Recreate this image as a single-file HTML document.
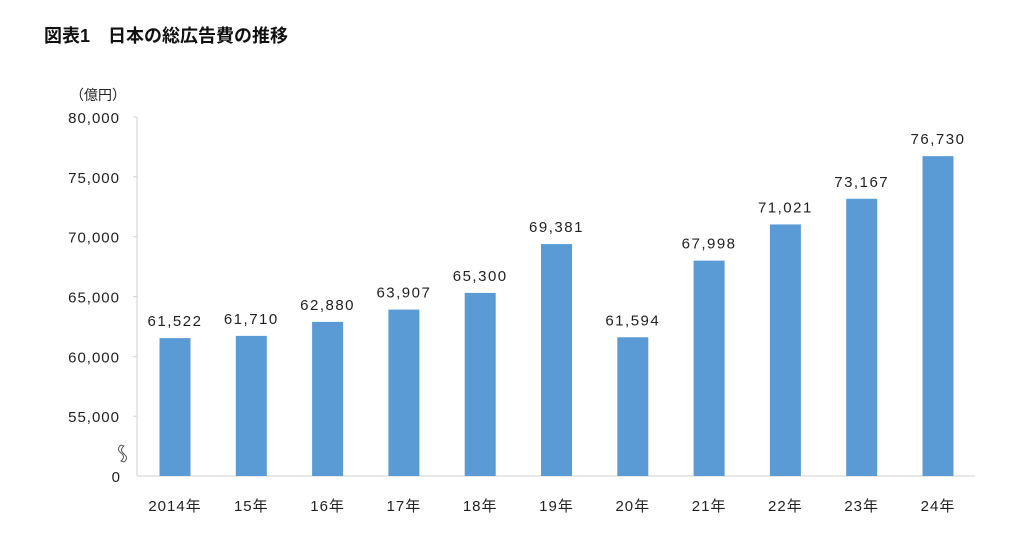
<!DOCTYPE html>
<html><head><meta charset="utf-8"><style>
body{margin:0;background:#fff;}
svg text{font-family:"Liberation Sans","Noto Sans CJK JP",sans-serif;}
</style></head><body>
<svg width="1024" height="533" viewBox="0 0 1024 533">
<text x="44" y="42" font-size="18" font-weight="bold" fill="#111">図表1　日本の総広告費の推移</text>
<text x="70" y="100" font-size="14" fill="#222">（億円）</text>
<g id="axes"></g>
<g id="bars"></g>
<path d="M121,445 q-5,4 0,8 q5,4 0,8 l3,1 q5,-4 0,-8 q-5,-4 0,-8z" fill="#fff" stroke="#555" stroke-width="1"/>
</svg>
<script>
const categories=["2014年","15年","16年","17年","18年","19年","20年","21年","22年","23年","24年"];
const values=[61522,61710,62880,63907,65300,69381,61594,67998,71021,73167,76730];
const tickValues=[55000,60000,65000,70000,75000,80000];
const tickLabels=["55,000","60,000","65,000","70,000","75,000","80,000"];
const NS="http://www.w3.org/2000/svg";
const yBase=476, yMin=50000, yMax=80000, yTop=117;
function yS(v){return yBase-(v-yMin)/(yMax-yMin)*(yBase-yTop);}
const x0=175, step=76.3;
function xc(i){return x0+i*step;}
function mk(t,a,p){const e=document.createElementNS(NS,t);for(const k in a)e.setAttribute(k,a[k]);p.appendChild(e);return e;}
const ax=document.getElementById('axes'), bg=document.getElementById('bars');
const yl=mk('line',{x1:137,y1:yTop,x2:137,y2:yBase,stroke:'#d0d0d0'},ax);


const xl=mk('line',{x1:137,y1:yBase,x2:975,y2:yBase,stroke:'#d0d0d0'},ax);


tickValues.forEach((v,i)=>{
  const tk=mk('line',{x1:133,y1:yS(v),x2:137,y2:yS(v),stroke:'#d0d0d0'},ax);
  
  
  const t=mk('text',{x:120,y:yS(v)+6,'font-size':15,'text-anchor':'end',fill:'#222','letter-spacing':'1'},ax);
  t.textContent=tickLabels[i];
  
  
});
const z=mk('text',{x:120,y:yBase+6,'font-size':15,'text-anchor':'end',fill:'#222'},ax);
z.textContent="0";


values.forEach((v,i)=>{
  const r=mk('rect',{x:xc(i)-15.5,y:yS(v),width:31,height:yBase-yS(v),fill:'#5b9bd5'},bg);
  
  
  const l=mk('text',{x:xc(i),y:yS(v)-12,'font-size':15,'text-anchor':'middle',fill:'#222','letter-spacing':'1.5'},bg);
  l.textContent=v.toLocaleString('en-US');
  
  
  const c=mk('text',{x:xc(i),y:511,'font-size':15,'text-anchor':'middle',fill:'#222','letter-spacing':'1'},bg);
  c.textContent=categories[i];
  
  
});
</script>
</body></html>
